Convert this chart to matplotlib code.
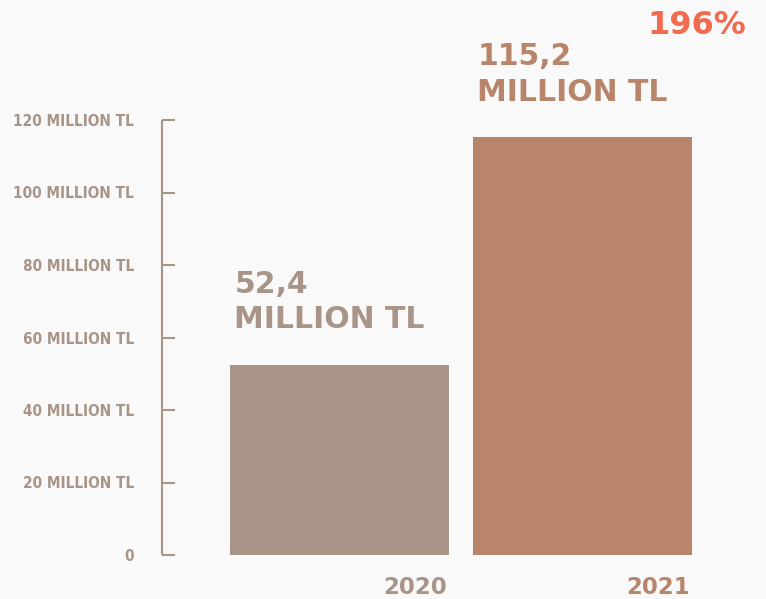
import matplotlib
matplotlib.use('Agg')
import matplotlib.pyplot as plt
from matplotlib import font_manager
from matplotlib.ticker import FixedLocator

years = ['2020', '2021']
values = [52.4, 115.2]
value_labels = ['52,4\nMILLION TL', '115,2\nMILLION TL']
yticks = [0, 20, 40, 60, 80, 100, 120]
ytick_labels = ['0', '20 MILLION TL', '40 MILLION TL', '60 MILLION TL',
                '80 MILLION TL', '100 MILLION TL', '120 MILLION TL']
growth = '196%'

bg = '#f9f9f9'
axis_col = '#a89587'
bar_cols = ['#a89587', '#b8856b']
red = '#f26a4f'
bar_w = 0.9

# narrow font for the axis labels if there is one
names = {f.name for f in font_manager.fontManager.ttflist}
narrow = None
for n in ['Liberation Sans Narrow', 'DejaVu Sans Condensed']:
    if n in names:
        narrow = n
        break
if narrow:
    tick_font = dict(family=[narrow, 'DejaVu Sans'], fontsize=13.5)
else:
    tick_font = dict(family=['DejaVu Sans'], fontstretch='condensed', fontsize=11)

fig = plt.figure(figsize=(7.66, 5.99), dpi=100, facecolor=bg)
ax = fig.add_axes([162 / 766, 44 / 599, (766 - 162) / 766, 435 / 599])
ax.set_facecolor(bg)

x = list(range(len(years)))
ax.bar(x, values, width=bar_w, color=bar_cols)

ax.set_xlim(-0.7305, 1.755)
ax.set_ylim(0, 120)
for s in ['top', 'right', 'bottom']:
    ax.spines[s].set_visible(False)
ax.spines['left'].set_color(axis_col)
ax.spines['left'].set_linewidth(1.5)
ax.spines['left'].set_capstyle('butt')

ax.set_xticks([])
ax.yaxis.set_major_locator(FixedLocator(yticks))
ax.set_yticklabels(ytick_labels, fontweight='bold', color=axis_col, **tick_font)
ax.tick_params(axis='y', direction='in', length=9.5, width=1.5, color=axis_col, pad=20)

for i, (v, lab) in enumerate(zip(values, value_labels)):
    ax.annotate(lab, xy=(i - bar_w / 2, v), xytext=(3, 22), textcoords='offset points',
                ha='left', va='bottom', fontsize=21.5, fontweight='bold', color=bar_cols[i],
                linespacing=1.3, annotation_clip=False)
    ax.annotate(years[i], xy=(i + bar_w / 2, 0), xytext=(-1, -15), textcoords='offset points',
                ha='right', va='top', fontsize=16.5, fontweight='bold', color=bar_cols[i],
                annotation_clip=False)

fig.text(746 / 766, 1 - 10 / 599, growth, ha='right', va='top', fontsize=23,
         fontweight='bold', color=red)

fig.savefig('out.png', dpi=100, facecolor=bg)
